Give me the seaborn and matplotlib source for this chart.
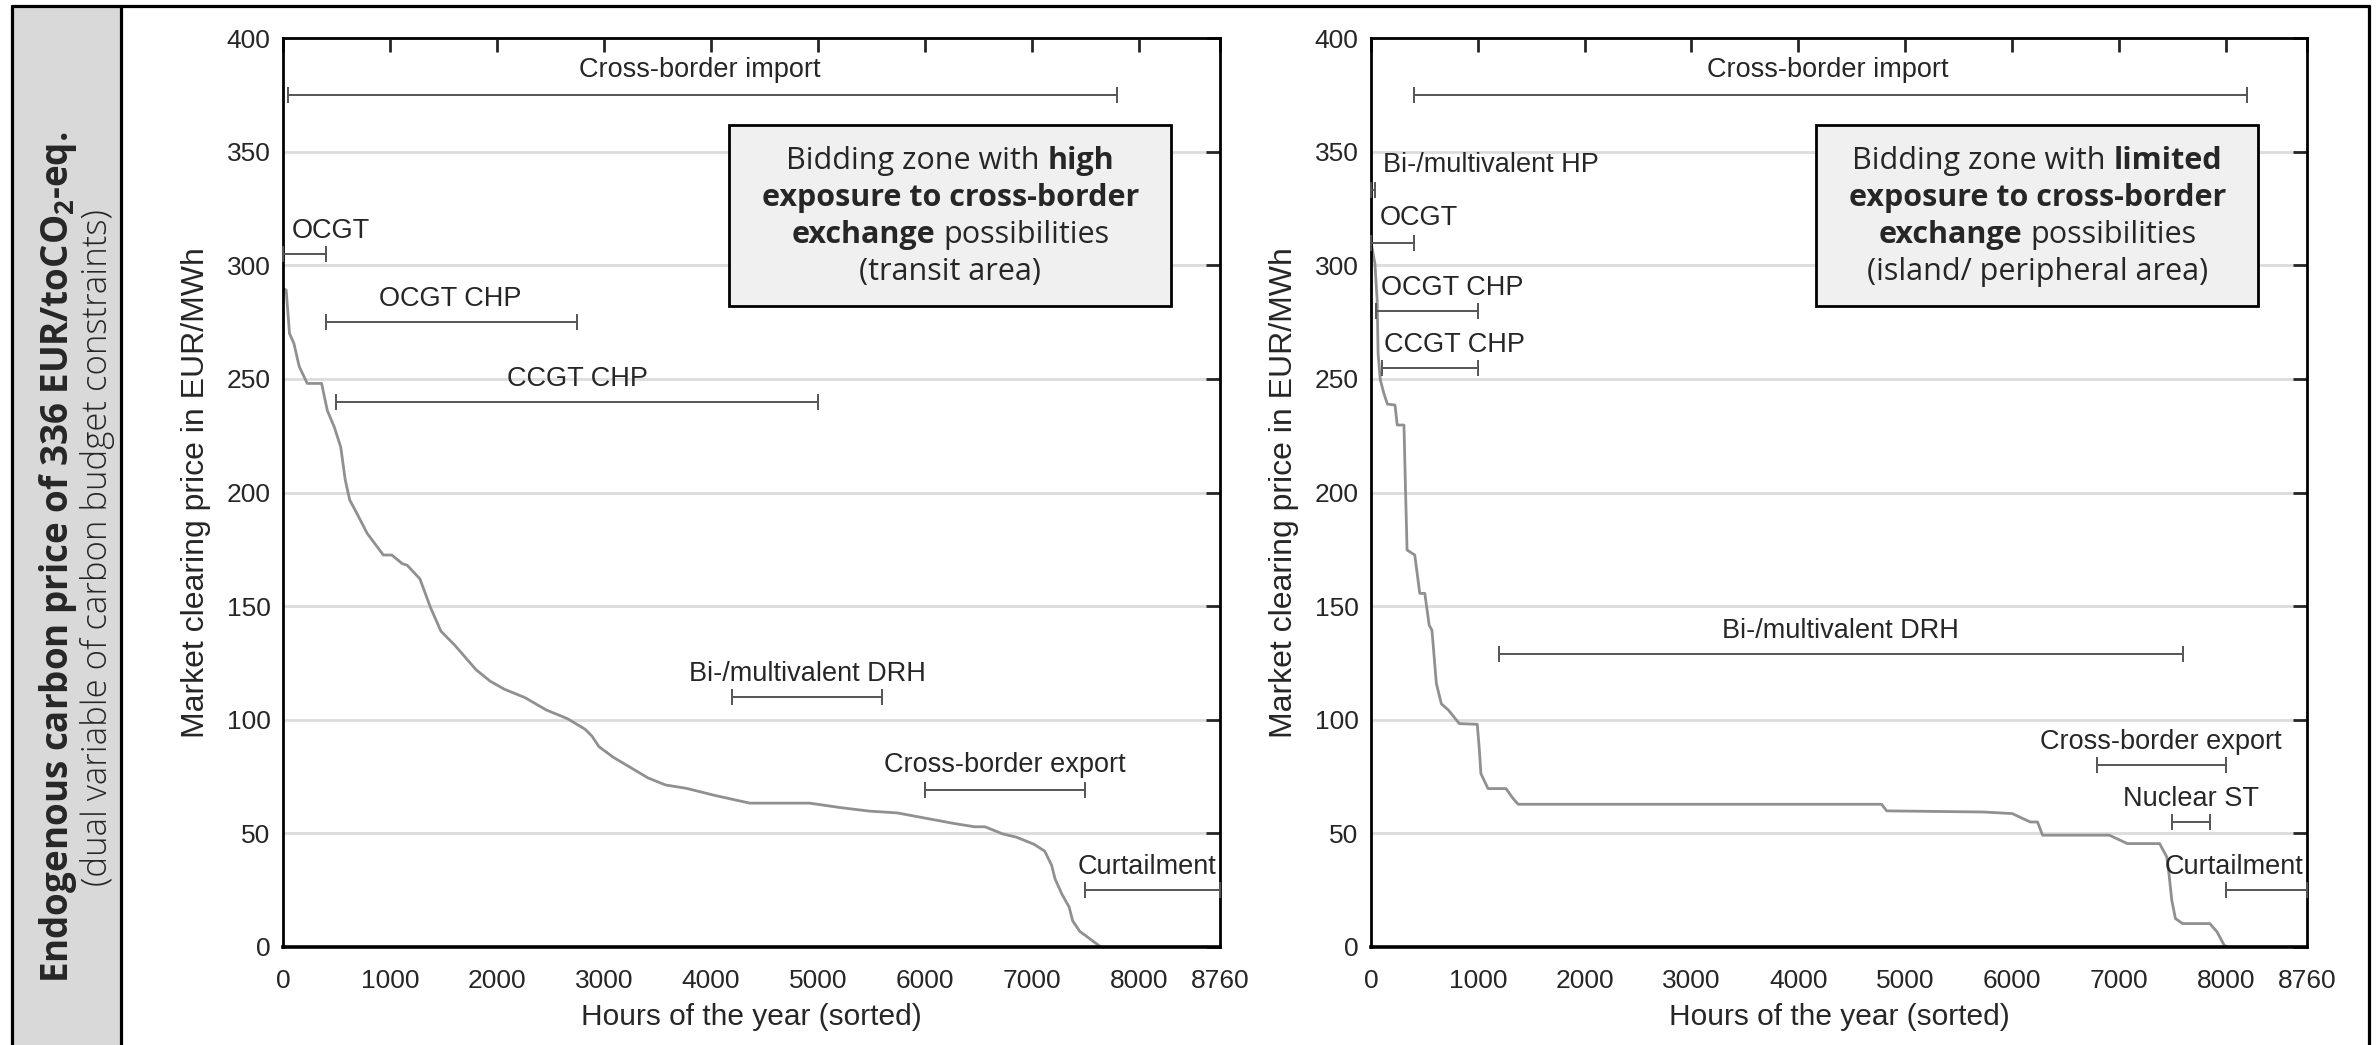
import numpy as np
import pandas as pd
import matplotlib
matplotlib.use('Agg')
import matplotlib.pyplot as plt
import seaborn as sns
from matplotlib.patches import Rectangle
from matplotlib.lines import Line2D

# price duration curves (sorted hours of the year vs. market clearing price)
hours_high = [0, 30, 61, 102, 152, 227, 361, 415, 478, 540, 582, 624, 689, 787, 938, 1017, 1115, 1161,
              1280, 1378, 1476, 1608, 1805, 1936, 2067, 2264, 2461, 2658, 2822, 2888, 2953, 3084, 3248,
              3412, 3576, 3773, 4036, 4364, 4922, 5217, 5479, 5742, 6004, 6267, 6464, 6562, 6726, 6857,
              7021, 7120, 7185, 7218, 7284, 7349, 7382, 7448, 7514, 7645]
price_high = [290, 289, 270, 265.6, 255.4, 248, 248, 236, 229, 220, 205.5, 196.7, 191, 182, 172.5, 172.5,
              168.7, 168, 162, 149.5, 139, 132.7, 122, 117, 113.5, 109.7, 104.3, 100.5, 95.9, 92.8, 88.2,
              83.6, 79, 74.4, 71.3, 69.8, 66.7, 63.3, 63.3, 61.3, 59.8, 59, 56.7, 54.4, 52.9, 52.9, 49.8,
              48.3, 45.2, 42.2, 36, 29.9, 23, 17.6, 11.5, 6.9, 4.6, 0]

hours_limited = [0, 37, 58, 67, 88, 121, 154, 225, 246, 309, 322, 338, 410, 457, 504, 545, 571, 612, 659,
                 726, 827, 995, 1015, 1029, 1096, 1264, 1331, 1378, 4780, 4827, 5735, 6003, 6071, 6172,
                 6239, 6286, 6911, 7012, 7079, 7382, 7449, 7469, 7496, 7530, 7597, 7852, 7920, 7987, 8020]
price_limited = [310.3, 300.8, 284.7, 261, 249.5, 243.6, 238.9, 238.5, 229.7, 229.7, 204, 174.7, 172.5,
                 155.6, 155.6, 141.6, 139.4, 116, 107, 104.2, 98.3, 98, 86.6, 76.3, 69.7, 69.7, 65.3, 62.8,
                 62.8, 59.9, 59.4, 58.7, 57.2, 55, 55, 49.2, 49.2, 47, 45.5, 45.5, 39.6, 32.3, 20.5, 12.5,
                 10.3, 10.3, 6.6, 0.7, 0]

# price-setting technologies: hour range, bracket level, label position
tech_high = ['Cross-border import', 'OCGT', 'OCGT CHP', 'CCGT CHP', 'Bi-/multivalent DRH',
             'Cross-border export', 'Curtailment']
start_high = [50, 0, 400, 500, 4200, 6000, 7500]
end_high = [7800, 400, 2750, 5000, 5600, 7500, 8760]
level_high = [375, 305, 275, 240, 110, 69, 25]
label_x_high = [3900, 450, 1560, 2750, 4900, 6750, 8080]
label_y_high = [386, 315, 285, 250, 120, 80, 35]

tech_limited = ['Cross-border import', 'Bi-/multivalent HP', 'OCGT', 'OCGT CHP', 'CCGT CHP',
                'Bi-/multivalent DRH', 'Cross-border export', 'Nuclear ST', 'Curtailment']
start_limited = [400, 0, 0, 50, 100, 1200, 6800, 7500, 8000]
end_limited = [8200, 40, 400, 1000, 1000, 7600, 8000, 7850, 8760]
level_limited = [375, 333, 310, 280, 255, 129, 80, 55, 25]
label_x_limited = [4280, 1120, 450, 760, 780, 4390, 7390, 7680, 8075]
label_y_limited = [386, 344, 321, 290, 265, 139, 90, 65, 35]

box_high = [[('Bidding zone with', 'normal'), ('high', 'bold')],
            [('exposure to cross-border', 'bold')],
            [('exchange', 'bold'), ('possibilities', 'normal')],
            [('(transit area)', 'normal')]]
box_limited = [[('Bidding zone with', 'normal'), ('limited', 'bold')],
               [('exposure to cross-border', 'bold')],
               [('exchange', 'bold'), ('possibilities', 'normal')],
               [('(island/ peripheral area)', 'normal')]]

x_ticks = [0, 1000, 2000, 3000, 4000, 5000, 6000, 7000, 8000, 8760]
y_ticks = [0, 50, 100, 150, 200, 250, 300, 350, 400]

sns.set_style('white')
plt.rcParams['font.family'] = ['Liberation Sans', 'DejaVu Sans']
plt.rcParams['mathtext.fontset'] = 'custom'
plt.rcParams['mathtext.rm'] = 'Open Sans:bold'

fig = plt.figure(figsize=(23.76, 10.45), dpi=100)
ax1 = fig.add_axes([0.1191, 0.0938, 0.3944, 0.8698])
ax2 = fig.add_axes([0.5770, 0.0938, 0.3939, 0.8698])


def rich_line(ax, y, parts, size=22):
    # draw one centred line made of pieces with different weights
    r = fig.canvas.get_renderer()
    probe1 = ax.text(0, 0, 'a a', family='Open Sans', fontsize=size)
    probe2 = ax.text(0, 0, 'aa', family='Open Sans', fontsize=size)
    space = probe1.get_window_extent(r).width - probe2.get_window_extent(r).width
    probe1.remove()
    probe2.remove()
    texts = []
    widths = []
    for s, w in parts:
        t = ax.text(0, y, s, transform=ax.transAxes, family='Open Sans', fontweight=w,
                    fontsize=size, ha='left', va='baseline', zorder=5)
        texts.append(t)
        widths.append(t.get_window_extent(r).width)
    total = sum(widths) + space * (len(parts) - 1)
    ax_w = ax.get_window_extent(r).width
    x = 0.712 - total / 2 / ax_w
    for t, w in zip(texts, widths):
        t.set_x(x)
        x += (w + space) / ax_w


def draw_panel(ax, hours, price, tech, start, end, level, lx, ly, box_lines):
    df = pd.DataFrame({'hours': hours, 'price': price})
    sns.lineplot(data=df, x='hours', y='price', ax=ax, color='#909090', lw=2, estimator=None, zorder=2)

    s = np.array(start)
    e = np.array(end)
    ax.errorbar(x=(s + e) / 2, y=level, xerr=(e - s) / 2, fmt='none', ecolor='#555555',
                elinewidth=1.4, capsize=5.5, capthick=1.4, zorder=3, clip_on=False)
    for name, x, y in zip(tech, lx, ly):
        ax.text(x, y, name, fontsize=19.5, ha='center', va='center', zorder=4)

    ax.add_patch(Rectangle((0.476, 0.705), 0.472, 0.199, transform=ax.transAxes,
                           facecolor='#f0f0f0', edgecolor='black', lw=2, zorder=4))
    for i, parts in enumerate(box_lines):
        rich_line(ax, 0.856 - i * 0.0407, parts)

    ax.set_xlim(0, 8760)
    ax.set_ylim(0, 400)
    ax.set_xticks(x_ticks)
    ax.set_yticks(y_ticks)
    ax.tick_params(direction='in', top=True, right=True, length=10, width=2, labelsize=19)
    ax.tick_params(axis='x', pad=16)
    ax.tick_params(axis='y', pad=9)
    ax.yaxis.grid(True, color='#dcdcdc', lw=2)
    ax.set_axisbelow(True)
    for side in ['left', 'right', 'top']:
        ax.spines[side].set_linewidth(2)
        ax.spines[side].set_color('black')
    ax.spines['bottom'].set_linewidth(2.6)
    ax.spines['bottom'].set_color('black')
    ax.set_xlabel('Hours of the year (sorted)', fontsize=21.5, labelpad=7)
    ax.set_ylabel('Market clearing price in EUR/MWh', fontsize=23, labelpad=11)


draw_panel(ax1, hours_high, price_high, tech_high, start_high, end_high, level_high,
           label_x_high, label_y_high, box_high)
draw_panel(ax2, hours_limited, price_limited, tech_limited, start_limited, end_limited, level_limited,
           label_x_limited, label_y_limited, box_limited)

# frame and grey side panel
x_l, x_sep, x_r, y_t = 12 / 2376, 121 / 2376, 2369 / 2376, 1 - 6 / 1045
fig.add_artist(Rectangle((x_l, 0), x_sep - x_l, y_t, transform=fig.transFigure,
                         facecolor='#d9d9d9', edgecolor='none', zorder=0))
for xs, ys in [([x_l, x_r], [y_t, y_t]), ([x_l, x_l], [0, y_t]), ([x_r, x_r], [0, y_t]),
               ([x_sep, x_sep], [0, y_t])]:
    fig.add_artist(Line2D(xs, ys, transform=fig.transFigure, color='black', lw=2.3))

fig.text(0.0245, 0.467, 'Endogenous carbon price of 336 EUR/toCO$_\\mathrm{2}$-eq.', rotation=90,
         ha='center', va='center', family='Open Sans', fontweight='bold', fontsize=26.5)
fig.text(0.0412, 0.476, '(dual variable of carbon budget constraints)', rotation=90,
         ha='center', va='center', family='Open Sans', fontweight='light', fontsize=25)

fig.savefig('out.png', dpi=100)
